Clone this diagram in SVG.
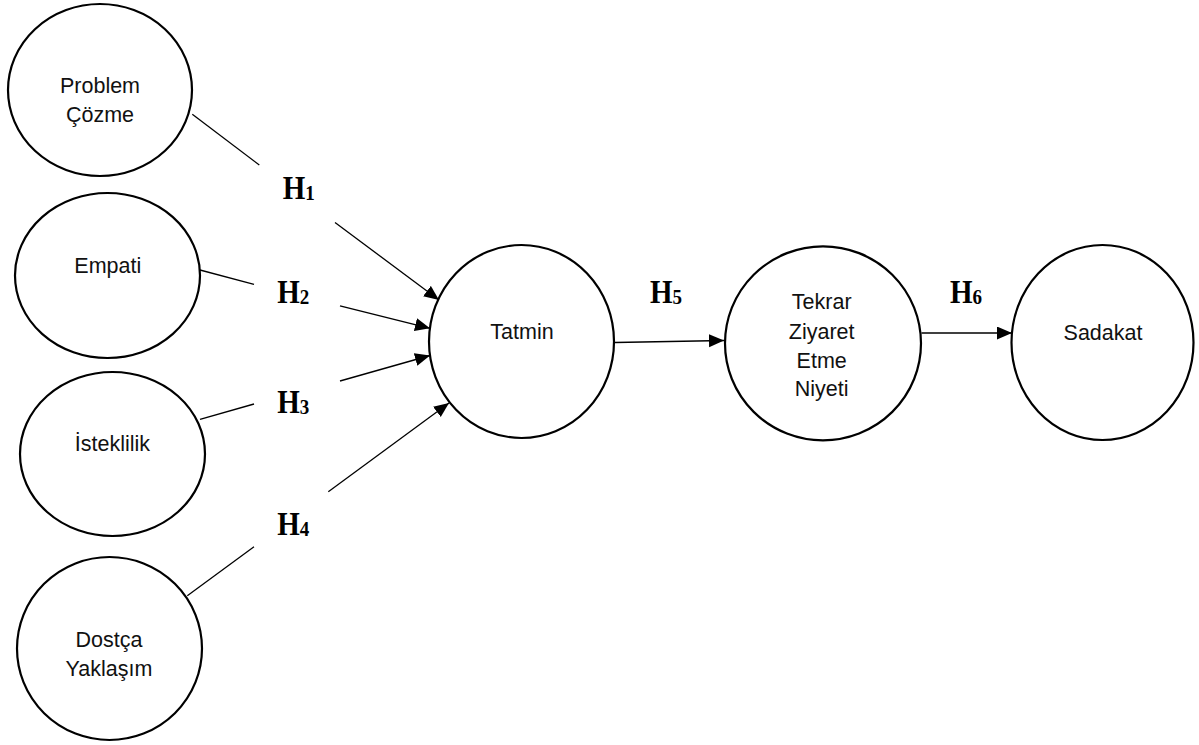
<svg xmlns="http://www.w3.org/2000/svg" width="1199" height="745" viewBox="0 0 1199 745">
<style>
.node ellipse{fill:#fff;stroke:#000;stroke-width:2.2}
.lbl{font-family:"Liberation Sans",Arial,sans-serif;font-size:21.5px;fill:#111;text-anchor:middle}
.conn line{stroke:#000;stroke-width:1.3;fill:none}
.h{font-family:"Liberation Serif","Times New Roman",serif;font-weight:bold;font-size:29px;fill:#000}
.h tspan.s{font-size:19px}
</style>
<defs>
<marker id="arr" markerUnits="userSpaceOnUse" markerWidth="16" markerHeight="14" refX="15" refY="6.5" orient="auto">
<path d="M0,0 L15,6.5 L0,13 Z" fill="#000"/>
</marker>
</defs>
<rect width="1199" height="745" fill="#fff"/>
<g id="connectors" class="conn">
<line x1="192.3" y1="114.3" x2="259.3" y2="165"/>
<line x1="335" y1="222.5" x2="439" y2="300" marker-end="url(#arr)"/>
<line x1="200" y1="270" x2="254" y2="284.3"/>
<line x1="340" y1="305.8" x2="430" y2="328.3" marker-end="url(#arr)"/>
<line x1="200" y1="419.3" x2="254" y2="404"/>
<line x1="340" y1="381" x2="430" y2="355.5" marker-end="url(#arr)"/>
<line x1="187.3" y1="595.7" x2="254" y2="546.7"/>
<line x1="328.3" y1="491.7" x2="449" y2="403" marker-end="url(#arr)"/>
<line x1="615" y1="342.5" x2="724" y2="340.5" marker-end="url(#arr)"/>
<line x1="921.5" y1="333" x2="1012" y2="333" marker-end="url(#arr)"/>
</g>
<g id="node-problem" class="node">
<ellipse cx="100" cy="90" rx="92" ry="86"/>
<text class="lbl" x="100" y="93">Problem</text>
<text class="lbl" x="100" y="122">Çözme</text>
</g>
<g id="node-empati" class="node">
<ellipse cx="107.5" cy="275.5" rx="92.5" ry="82.5"/>
<text class="lbl" x="107.8" y="273.3">Empati</text>
</g>
<g id="node-isteklilik" class="node">
<ellipse cx="112.5" cy="454" rx="92.5" ry="82"/>
<text class="lbl" x="112.5" y="451">İsteklilik</text>
</g>
<g id="node-dostca" class="node">
<ellipse cx="109.5" cy="648.5" rx="92.5" ry="91.5"/>
<text class="lbl" x="109" y="646.7">Dostça</text>
<text class="lbl" x="109" y="676">Yaklaşım</text>
</g>
<g id="node-tatmin" class="node">
<ellipse cx="521.5" cy="341.5" rx="92.5" ry="96.5"/>
<text class="lbl" x="522" y="339">Tatmin</text>
</g>
<g id="node-tekrar" class="node">
<ellipse cx="823" cy="343.3" rx="98" ry="97"/>
<text class="lbl" x="821.7" y="309.3">Tekrar</text>
<text class="lbl" x="821.7" y="339">Ziyaret</text>
<text class="lbl" x="821.7" y="367.7">Etme</text>
<text class="lbl" x="821.7" y="396">Niyeti</text>
</g>
<g id="node-sadakat" class="node">
<ellipse cx="1102.5" cy="342.5" rx="91" ry="97.5"/>
<text class="lbl" x="1103" y="340">Sadakat</text>
</g>
<g id="labels">
<text class="h" transform="translate(282.7,199) scale(1,1.15)">H<tspan class="s" dy="1">1</tspan></text>
<text class="h" transform="translate(277.3,303.3) scale(1,1.15)">H<tspan class="s" dy="1">2</tspan></text>
<text class="h" transform="translate(277.3,412.7) scale(1,1.15)">H<tspan class="s" dy="1">3</tspan></text>
<text class="h" transform="translate(277.3,535) scale(1,1.15)">H<tspan class="s" dy="1">4</tspan></text>
<text class="h" transform="translate(650,303.3) scale(1,1.15)">H<tspan class="s" dy="1">5</tspan></text>
<text class="h" transform="translate(950,303.3) scale(1,1.15)">H<tspan class="s" dy="1">6</tspan></text>
</g>
</svg>
